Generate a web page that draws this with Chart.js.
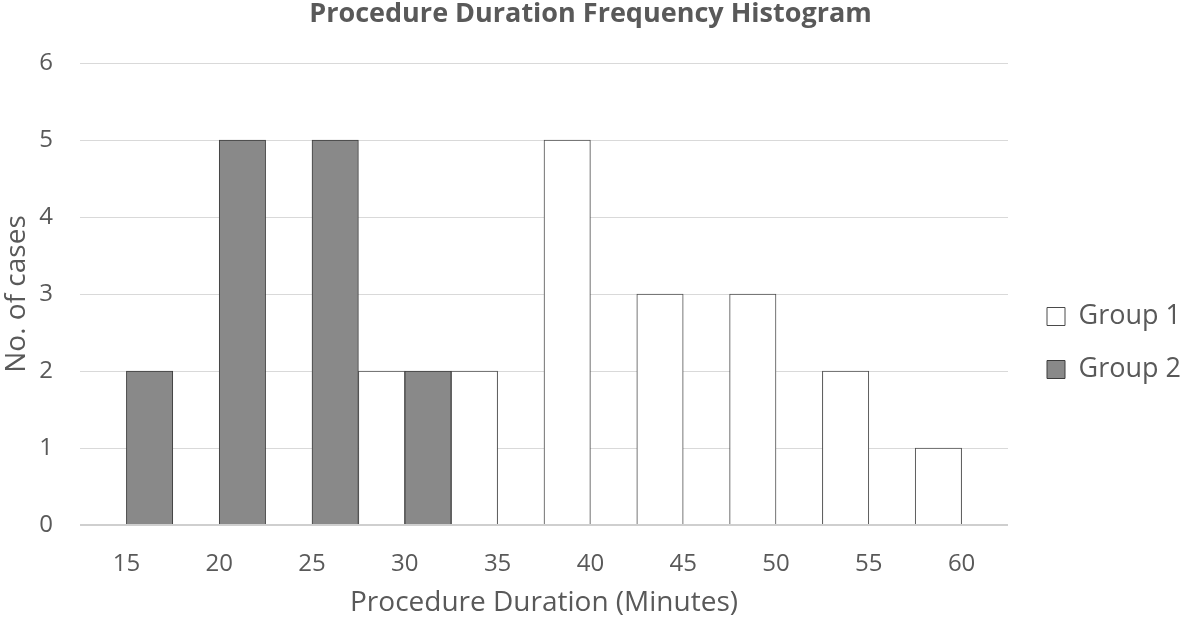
<!DOCTYPE html>
<html>
<head>
<meta charset="utf-8">
<title>Procedure Duration Frequency Histogram</title>
<script src="https://cdn.jsdelivr.net/npm/chart.js@4/dist/chart.umd.min.js"></script>
<style>
  html,body{margin:0;padding:0;background:#fff;}
  #wrap{width:1181px;height:623px;}
</style>
</head>
<body>
<div id="wrap"><canvas id="histChart" width="1181" height="623"></canvas></div>
<script>
// values
const durations=["15","20","25","30","35","40","45","50","55","60"];
const group1=[0,0,0,2,2,5,3,3,2,1];
const group2=[2,5,5,2,0,0,0,0,0,0];
const yMax=6, yStep=1;

const TXT="#595959", FONT="'Open Sans', sans-serif";
Chart.defaults.font.family=FONT;
Chart.defaults.color=TXT;

const data={
  labels:durations,
  datasets:[
    {label:"Group 1",data:group1,backgroundColor:"#ffffff",borderColor:"#4a4a4a",borderWidth:1},
    {label:"Group 2",data:group2,backgroundColor:"#898989",borderColor:"#3c3c3c",borderWidth:1}
  ]
};

const options={
  responsive:false,animation:false,
  layout:{padding:{top:0,right:0,bottom:3,left:0}},
  datasets:{bar:{categoryPercentage:1.0,barPercentage:1.0,borderSkipped:"bottom"}},
  plugins:{
    title:{display:true,text:"Procedure Duration Frequency Histogram",color:TXT,
      font:{size:27,weight:"bold"},padding:{top:-2,bottom:32.6}},
    legend:{position:"right",maxWidth:160,
      title:{display:true,text:"",font:{size:12},padding:{top:51.6,bottom:0}},
      labels:{boxWidth:18,boxHeight:18,padding:26,color:TXT,font:{size:27}}},
    tooltip:{enabled:false}
  },
  scales:{
    x:{
      grid:{display:false},border:{display:false},
      ticks:{color:TXT,font:{size:24},padding:17},
      title:{display:true,text:"Procedure Duration (Minutes)",color:TXT,font:{size:28},padding:0},
      afterFit:(s)=>{s.height=95;}
    },
    y:{
      min:0,max:yMax,
      border:{display:false},
      grid:{drawTicks:false,
        color:(c)=>c.tick && c.tick.value===0 ? "#cfcfcf" : "#d9d9d9",
        lineWidth:(c)=>c.tick && c.tick.value===0 ? 2 : 1},
      ticks:{stepSize:yStep,color:TXT,font:{size:24},padding:27},
      title:{display:true,text:"No. of cases",color:TXT,font:{size:28},padding:0},
      afterFit:(s)=>{s.width=80;}
    },
    // empty spacer between the plot and the legend
    gap:{position:"right",display:true,grid:{display:false},border:{display:false},
      ticks:{display:false},afterFit:(s)=>{s.width=13;}}
  }
};

new Chart(document.getElementById("histChart"),{type:"bar",data,options});
</script>
</body>
</html>
